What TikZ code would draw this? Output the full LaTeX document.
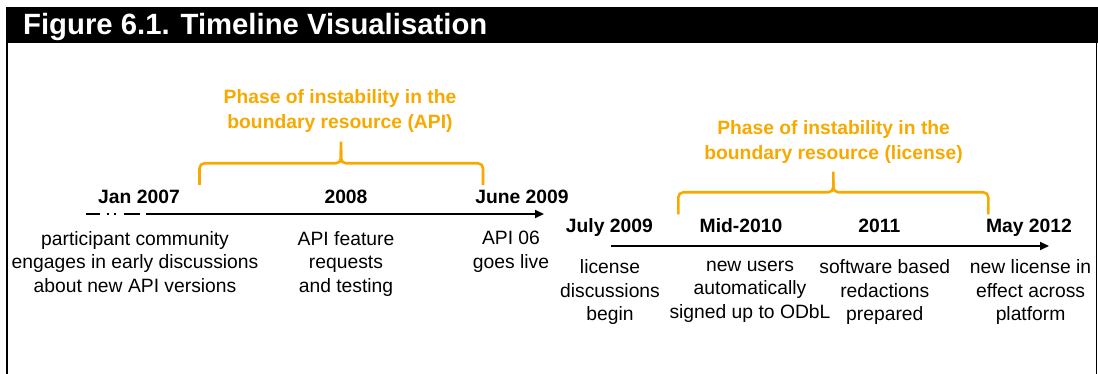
\documentclass[tikz,border=0pt]{standalone}
\usepackage{fontspec}
\setmainfont{Liberation Sans}
\usetikzlibrary{arrows.meta}
\definecolor{phase}{RGB}{247,169,0}
\begin{document}
\begin{tikzpicture}[x=1pt,y=-1pt,
  titletxt/.style={font=\fontsize{29.3}{32}\selectfont\bfseries, text=white, inner sep=0, anchor=base west},
  datelbl/.style={font=\fontsize{19.3}{23.5}\selectfont\bfseries, inner sep=0, anchor=base},
  desc/.style={font=\fontsize{19.3}{23.5}\selectfont, align=center, inner sep=0, anchor=base},
  phasetxt/.style={font=\fontsize{19.3}{24.3}\selectfont\bfseries, text=phase, align=center, inner sep=0, anchor=base},
  timeline/.style={line width=2pt, -{Triangle[length=9pt,width=8pt]}},
  lead/.style={line width=2pt},
  brace/.style={draw=phase, line width=2.6pt, rounded corners=5pt}]
\useasboundingbox (0,0) rectangle (1098,374);

% frame and title bar
\fill[black] (6,7) rectangle (1098,43);
\fill[black] (6,43) rectangle (8.2,374);
\fill[black] (1095.8,43) rectangle (1097.2,374);
\node[titletxt] (title) at (23,35) {Figure 6.1. Timeline Visualisation};

% first phase: API (multi-line nodes sit on the baseline of their last line)
\node[phasetxt] (phaseapi) at (340,128.3) {Phase of instability in the\\boundary resource (API)};
\draw[brace] (199.5,185) |- (341,163.3) -- (341,141.7);
\draw[brace] (483,185) |- (341,163.3) -- (341,150);

\node[datelbl] (jan07) at (139,203.3) {Jan 2007};
\node[datelbl] (y08) at (346,203.3) {2008};
\node[datelbl] (jun09) at (522,203.3) {June 2009};

% lead-in of the first timeline
\coordinate (d1a) at (86,214);   \coordinate (d1b) at (99.5,214);
\coordinate (d2a) at (106.5,214); \coordinate (d2b) at (108.8,214);
\coordinate (d3a) at (113.5,214); \coordinate (d3b) at (115.8,214);
\coordinate (d4a) at (124,214);  \coordinate (d4b) at (139.5,214);
\draw[lead] (d1a) -- (d1b);
\draw[lead] (d2a) -- (d2b);
\draw[lead] (d3a) -- (d3b);
\draw[lead] (d4a) -- (d4b);
\coordinate (t1s) at (145.5,214);
\coordinate (t1e) at (544,214);
\draw[timeline] (t1s) -- (t1e);

\node[desc] (dcomm) at (135,292) {participant community\\engages in early discussions\\about new API versions};
\node[desc] (dfeat) at (346,292) {API feature\\requests\\and testing};
\node[desc] (dlive) at (511,268.5) {API 06\\goes live};

% second phase: license
\node[phasetxt] (phaselic) at (833.6,159.3) {Phase of instability in the\\boundary resource (license)};
\draw[brace] (678.3,214.3) |- (833.3,192.3) -- (833.3,171.7);
\draw[brace] (988.3,214.3) |- (833.3,192.3) -- (833.3,180);

\node[datelbl] (jul09) at (609.4,232.5) {July 2009};
\node[datelbl] (mid10) at (741,232.5) {Mid-2010};
\node[datelbl] (y11) at (879.4,232.5) {2011};
\node[datelbl] (may12) at (1029,232.5) {May 2012};

\coordinate (t2s) at (611,246);
\coordinate (t2e) at (1049,246);
\draw[timeline] (t2s) -- (t2e);

\node[desc] (dlic) at (610,320.5) {license\\discussions\\begin};
\node[desc] (dusers) at (750,318) {new users\\automatically\\signed up to ODbL};
\node[desc] (dsoft) at (884.8,320.5) {software based\\redactions\\prepared};
\node[desc] (dnew) at (1030.6,320.5) {new license in\\effect across\\platform};
\end{tikzpicture}
\end{document}
